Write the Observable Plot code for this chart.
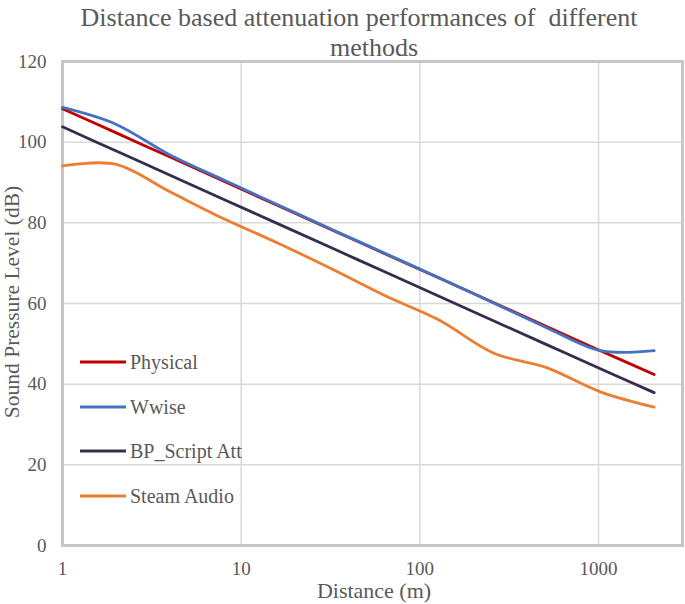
<!DOCTYPE html>
<html><head><meta charset="utf-8">
<script src="https://cdn.jsdelivr.net/npm/d3@7"></script>
<script src="https://cdn.jsdelivr.net/npm/@observablehq/plot@0.6"></script>
<style>
body{margin:0;background:#fff;}
#wrap{position:relative;width:685px;height:604px;font-family:"Liberation Serif",serif;color:#595959;overflow:hidden;}
#wrap svg{position:absolute;left:0;top:0;}
.title{position:absolute;font-size:26px;white-space:pre;line-height:30px;transform:translateX(-50%);}
.ylab{position:absolute;left:12px;top:302px;font-size:21.5px;white-space:nowrap;transform:translate(-50%,-50%) rotate(-90deg);}
.xlab{position:absolute;left:374px;top:591px;font-size:22px;white-space:nowrap;transform:translate(-50%,-50%);}
.item{position:absolute;left:80px;display:flex;align-items:center;white-space:nowrap;font-size:20px;transform:translateY(-50%);}
.sw{width:46px;height:3px;margin-right:4px;}
</style></head><body><div id="wrap"></div>
<script>
const distances = [1, 2, 4, 8, 16, 32, 64, 128, 256, 512, 1024, 2048];
const physical  = [108.3, 102.3, 96.3, 90.3, 84.3, 78.3, 72.3, 66.3, 60.3, 54.3, 48.3, 42.4];
const wwise     = [108.6, 104.4, 96.8, 90.6, 84.5, 78.4, 72.4, 66.4, 60.2, 54.0, 48.3, 48.3];
const bpScript  = [103.8, 97.8, 91.8, 85.8, 79.8, 73.8, 67.8, 61.8, 55.8, 49.8, 43.8, 37.9];
const steam     = [94.1, 94.5, 87.7, 81.0, 75.0, 68.6, 61.9, 55.9, 47.8, 44.1, 38.1, 34.3];
const seriesNames  = ["Physical", "Wwise", "BP_Script Att", "Steam Audio"];
const seriesValues = [physical, wwise, bpScript, steam];
const seriesColors = ["#C00000", "#4472C4", "#382C4C", "#ED7D31"];
const xTicks = [1, 10, 100, 1000];
const yTicks = [0, 20, 40, 60, 80, 100, 120];
const titleLines = ["Distance based attenuation performances of  different", "methods"];
const xLabel = "Distance (m)";
const yLabel = "Sound Pressure Level (dB)";

const rows = [];
seriesNames.forEach((s, i) => distances.forEach((d, j) => rows.push({s, d, v: seriesValues[i][j]})));

const chart = Plot.plot({
  width: 685, height: 604,
  marginLeft: 62, marginRight: 3, marginTop: 61, marginBottom: 59,
  style: {fontFamily: "Liberation Serif", fontSize: "18px", color: "#595959", background: "transparent"},
  x: {type: "log", domain: [1, 2950]},
  y: {domain: [0, 120]},
  color: {domain: seriesNames, range: seriesColors},
  marks: [
    Plot.ruleX(xTicks, {stroke: "#d9d9d9", strokeWidth: 1.5}),
    Plot.ruleY(yTicks, {stroke: "#d9d9d9", strokeWidth: 1.5}),
    Plot.frame({stroke: "#c6c6c6", strokeWidth: 3}),
    Plot.line(rows, {x: "d", y: "v", z: "s", stroke: "s", curve: "cardinal", strokeWidth: 2.8}),
    Plot.axisY({ticks: yTicks, tickSize: 0, tickPadding: 16, fontSize: 19, label: null}),
    Plot.axisX({ticks: xTicks, tickFormat: d => String(d), tickSize: 0, tickPadding: 16, fontSize: 19, label: null})
  ]
});
const wrap = document.getElementById("wrap");
wrap.appendChild(chart);

titleLines.forEach((t, i) => {
  const el = document.createElement("div");
  el.className = "title";
  el.style.top = (3 + i * 30) + "px";
  el.style.left = (i === 0 ? 359 : 374) + "px";
  el.textContent = t;
  wrap.appendChild(el);
});
const yl = document.createElement("div"); yl.className = "ylab"; yl.textContent = yLabel; wrap.appendChild(yl);
const xl = document.createElement("div"); xl.className = "xlab"; xl.textContent = xLabel; wrap.appendChild(xl);
seriesNames.forEach((s, i) => {
  const it = document.createElement("div");
  it.className = "item";
  it.style.top = (362 + i * 44.5) + "px";
  const sw = document.createElement("span"); sw.className = "sw"; sw.style.background = seriesColors[i];
  const tx = document.createElement("span"); tx.textContent = s;
  it.appendChild(sw); it.appendChild(tx);
  wrap.appendChild(it);
});
</script></body></html>
